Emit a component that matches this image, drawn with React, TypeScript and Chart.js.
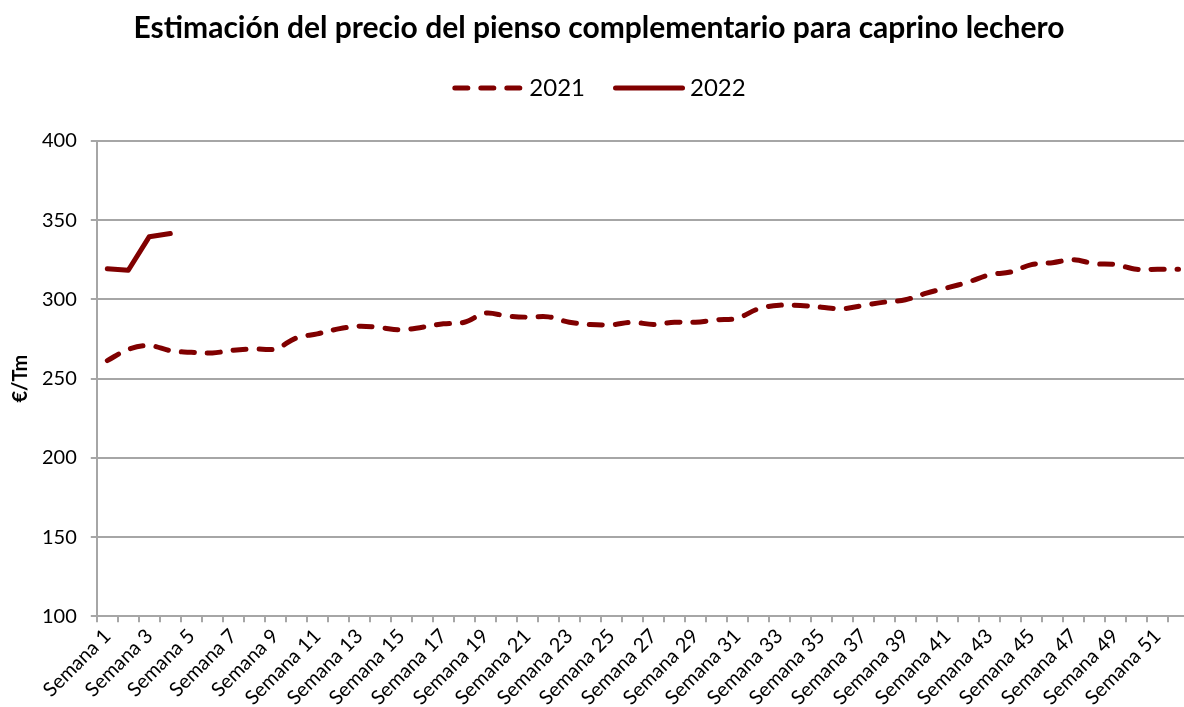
import React, { useEffect, useRef } from "react";
import { Chart, registerables, layouts } from "chart.js";

Chart.register(...registerables);

const weeks: string[] = [
  "Semana 1", "Semana 2", "Semana 3", "Semana 4", "Semana 5", "Semana 6", "Semana 7", "Semana 8",
  "Semana 9", "Semana 10", "Semana 11", "Semana 12", "Semana 13", "Semana 14", "Semana 15", "Semana 16",
  "Semana 17", "Semana 18", "Semana 19", "Semana 20", "Semana 21", "Semana 22", "Semana 23", "Semana 24",
  "Semana 25", "Semana 26", "Semana 27", "Semana 28", "Semana 29", "Semana 30", "Semana 31", "Semana 32",
  "Semana 33", "Semana 34", "Semana 35", "Semana 36", "Semana 37", "Semana 38", "Semana 39", "Semana 40",
  "Semana 41", "Semana 42", "Semana 43", "Semana 44", "Semana 45", "Semana 46", "Semana 47", "Semana 48",
  "Semana 49", "Semana 50", "Semana 51", "Semana 52",
];

const price2021: number[] = [
  261.4, 268.5, 270.9, 267.7, 266.6, 266.2, 268.0, 268.8, 268.8, 275.7,
  278.3, 281.4, 283.1, 282.2, 280.8, 282.5, 284.6, 285.6, 291.3, 289.6,
  288.8, 289.0, 285.6, 284.2, 284.0, 285.6, 284.2, 285.6, 285.6, 287.1,
  288.2, 294.1, 296.4, 296.2, 295.1, 294.1, 296.2, 298.3, 299.8, 304.0,
  307.4, 311.0, 315.6, 317.3, 322.0, 323.2, 325.1, 322.6, 322.0, 319.0,
  319.0, 319.0,
];

const price2022: (number | null)[] = [319.4, 318.4, 339.6, 341.6];

const yTicks: number[] = [100, 150, 200, 250, 300, 350, 400];

const TITLE = "Estimación del precio del pienso complementario para caprino lechero";
const Y_TITLE = "€/Tm";
const FONT = "Lato, 'Open Sans', sans-serif";
const RED = "#800000";
const GRID = "#a6a6a6";
const LEGEND_BOX = 65;
const LEGEND_GAP = 31;

const legendGap = {
  id: "legendGap",
  beforeInit(chart: any) {
    const box: any = {
      position: "top",
      weight: 1,
      fullSize: true,
      options: { stackWeight: 1 },
      top: 0,
      left: 0,
      right: 0,
      bottom: 0,
      width: 0,
      height: 0,
      isHorizontal: () => true,
      getPadding: () => ({ top: 0, left: 0, right: 0, bottom: 0 }),
      update(maxWidth: number) {
        box.width = maxWidth;
        box.height = LEGEND_GAP;
      },
      draw() {},
    };
    layouts.addBox(chart, box);
  },
};

const legendLines = {
  id: "legendLines",
  afterDraw(chart: any) {
    const legend = chart.legend;
    if (!legend || !legend.legendHitBoxes) return;
    const ctx = chart.ctx;
    legend.legendHitBoxes.forEach((hb: any, i: number) => {
      const ds = chart.data.datasets[i];
      const y = hb.top + hb.height / 2;
      ctx.save();
      ctx.strokeStyle = ds.borderColor;
      ctx.lineWidth = ds.borderWidth;
      ctx.lineCap = ds.borderCapStyle || "butt";
      ctx.setLineDash(ds.borderDash || []);
      ctx.beginPath();
      ctx.moveTo(hb.left + 2.5, y);
      ctx.lineTo(hb.left + LEGEND_BOX + 4.5, y);
      ctx.stroke();
      ctx.restore();
    });
  },
};

export default function App() {
  const canvasRef = useRef<HTMLCanvasElement | null>(null);

  useEffect(() => {
    if (!canvasRef.current) return;
    const chart = new Chart(canvasRef.current, {
      type: "line",
      data: {
        labels: weeks,
        datasets: [
          {
            label: "2021",
            data: price2021,
            borderColor: RED,
            backgroundColor: RED,
            borderWidth: 5,
            borderDash: [13, 13],
            borderCapStyle: "round",
            borderJoinStyle: "round",
            pointRadius: 0,
            pointHoverRadius: 0,
            tension: 0.35,
            fill: false,
          },
          {
            label: "2022",
            data: price2022,
            borderColor: RED,
            backgroundColor: RED,
            borderWidth: 5,
            borderCapStyle: "round",
            borderJoinStyle: "round",
            pointRadius: 0,
            pointHoverRadius: 0,
            tension: 0,
            fill: false,
          },
        ],
      },
      plugins: [legendGap, legendLines],
      options: {
        responsive: false,
        animation: false,
        layout: { padding: { left: 9, right: 2, top: 8, bottom: 0 } },
        plugins: {
          title: {
            display: true,
            text: TITLE,
            color: "#000",
            font: { family: FONT, size: 30, weight: "bold" },
            padding: { top: 2, bottom: 2 },
          },
          legend: {
            display: true,
            position: "top",
            labels: {
              usePointStyle: true,
              pointStyle: "line",
              pointStyleWidth: LEGEND_BOX,
              color: "#000",
              font: { family: FONT, size: 24 },
              padding: 28,
              generateLabels: (chart: any) =>
                Chart.defaults.plugins.legend.labels
                  .generateLabels(chart)
                  .map((l: any) => ({ ...l, lineWidth: 0, strokeStyle: "rgba(0,0,0,0)" })),
            },
          },
          tooltip: { enabled: false },
        },
        scales: {
          x: {
            type: "category",
            offset: true,
            afterFit: (s: any) => {
              s.paddingLeft = 0;
              s.paddingRight = 0;
              s.height = s.height - 5;
            },
            grid: {
              display: true,
              drawOnChartArea: false,
              drawTicks: true,
              tickLength: 6,
              offset: true,
              color: GRID,
              lineWidth: 2,
            },
            border: { display: true, color: GRID, width: 2 },
            ticks: {
              autoSkip: false,
              minRotation: 45,
              maxRotation: 45,
              color: "#000",
              padding: 2,
              font: { family: FONT, size: 20 },
              callback: (_v: any, i: number) => (i % 2 === 0 ? weeks[i] : ""),
            },
          },
          y: {
            min: yTicks[0],
            max: yTicks[yTicks.length - 1],
            afterBuildTicks: (axis: any) => {
              axis.ticks = yTicks.map((v) => ({ value: v }));
            },
            afterFit: (s: any) => {
              s.width = s.width - 14;
            },
            grid: {
              display: true,
              drawTicks: true,
              tickLength: 6,
              color: GRID,
              lineWidth: 2,
            },
            border: { display: true, color: GRID, width: 2 },
            ticks: {
              color: "#000",
              padding: 14,
              font: { family: FONT, size: 20 },
            },
            title: {
              display: true,
              text: Y_TITLE,
              color: "#000",
              font: { family: FONT, size: 20, weight: "bold" },
              padding: { top: 0, bottom: 9 },
            },
          },
        },
      },
    });
    return () => chart.destroy();
  }, []);

  return (
    <div
      style={{
        position: "fixed",
        left: 0,
        top: 0,
        width: 1184,
        height: 707,
        overflow: "hidden",
        background: "#fff",
      }}
    >
      <canvas ref={canvasRef} width={1191} height={707} />
    </div>
  );
}
